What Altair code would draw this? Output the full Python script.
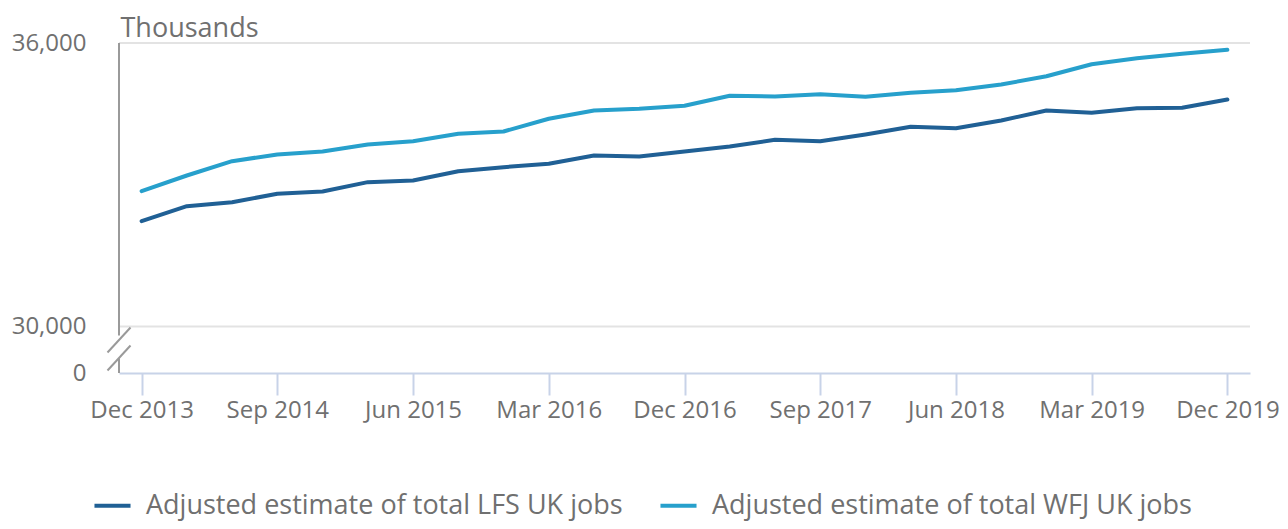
import altair as alt
import pandas as pd

# ---------------- data ----------------
quarters = ["Dec 2013", "Mar 2014", "Jun 2014", "Sep 2014", "Dec 2014", "Mar 2015",
            "Jun 2015", "Sep 2015", "Dec 2015", "Mar 2016", "Jun 2016", "Sep 2016",
            "Dec 2016", "Mar 2017", "Jun 2017", "Sep 2017", "Dec 2017", "Mar 2018",
            "Jun 2018", "Sep 2018", "Dec 2018", "Mar 2019", "Jun 2019", "Sep 2019",
            "Dec 2019"]

lfs = [32229, 32547, 32631, 32809, 32858, 33055, 33090, 33287, 33372, 33444,
       33619, 33598, 33704, 33810, 33952, 33922, 34064, 34227, 34197, 34360,
       34572, 34523, 34620, 34629, 34804]

wfj = [32864, 33196, 33499, 33641, 33704, 33852, 33922, 34079, 34127, 34396,
       34572, 34608, 34671, 34883, 34868, 34917, 34862, 34946, 35001, 35122,
       35297, 35551, 35678, 35771, 35856]

series_names = ["Adjusted estimate of total LFS UK jobs",
                "Adjusted estimate of total WFJ UK jobs"]
series_colors = ["#206095", "#27a0cc"]

x_label_quarters = quarters[::3]
grid_values = [30000, 36000]

# broken axis: values from 30,000 upwards are shown as offsets; 0 sits below the break
BREAK_BASE = 30000
BREAK_ZERO = -984
Y_TOP = 6000

rows = []
for q, a, b in zip(quarters, lfs, wfj):
    rows.append({"quarter": q, "series": series_names[0], "value": a})
    rows.append({"quarter": q, "series": series_names[1], "value": b})
df = pd.DataFrame(rows)
grid_df = pd.DataFrame({"value": grid_values})
one = pd.DataFrame({"k": [0]})

TEXT = "#707070"
AXIS_GREY = "#9a9a9a"
y_calc = f"datum.value - {BREAK_BASE}"

y_scale = alt.Scale(domain=[BREAK_ZERO, Y_TOP], nice=False, zero=False)
y_axis = alt.Axis(
    values=[BREAK_ZERO, 0, Y_TOP],
    labelExpr=f"datum.value < 0 ? '0' : format(datum.value + {BREAK_BASE}, ',')",
    title="Thousands", titleAngle=0, titleAlign="left", titleBaseline="alphabetic",
    titleX=1, titleY=-7, titleFontSize=27, titleFontWeight="normal", titleColor=TEXT,
    labelFontSize=24, labelColor=TEXT, labelPadding=33, ticks=False,
    domain=False, grid=False,
)

x_enc = alt.X(
    "quarter:O", sort=quarters,
    scale=alt.Scale(type="point", padding=0.5),
    axis=alt.Axis(values=x_label_quarters, labelAngle=0, title=None,
                  labelFontSize=24, labelColor=TEXT, labelPadding=3,
                  tickSize=22, tickColor="#c8d3e8", tickWidth=2,
                  domainColor="#c8d3e8", domainWidth=2, grid=False),
)

grid = alt.Chart(grid_df).transform_calculate(plot_y=y_calc).mark_rule(
    color="#e3e3e3", strokeWidth=2
).encode(y=alt.Y("plot_y:Q", scale=y_scale, axis=y_axis))

axis_upper = alt.Chart(one).mark_rule(color=AXIS_GREY, strokeWidth=2).encode(
    x=alt.value(0), y=alt.datum(Y_TOP), y2=alt.datum(-190)
)
axis_lower = alt.Chart(one).mark_rule(color=AXIS_GREY, strokeWidth=2).encode(
    x=alt.value(0), y=alt.datum(-670), y2=alt.datum(BREAK_ZERO)
)
break1 = alt.Chart(one).mark_rule(color=AXIS_GREY, strokeWidth=2).encode(
    x=alt.value(-11.5), x2=alt.value(11.5), y=alt.value(309.5), y2=alt.value(284.5)
)
break2 = alt.Chart(one).mark_rule(color=AXIS_GREY, strokeWidth=2).encode(
    x=alt.value(-11.5), x2=alt.value(11.5), y=alt.value(327.5), y2=alt.value(302.5)
)

lines = alt.Chart(df).transform_calculate(plot_y=y_calc).mark_line(
    strokeWidth=4, strokeCap="round", strokeJoin="round"
).encode(
    x=x_enc,
    y=alt.Y("plot_y:Q", scale=y_scale, axis=y_axis),
    color=alt.Color(
        "series:N",
        scale=alt.Scale(domain=series_names, range=series_colors),
        legend=alt.Legend(
            title=None, orient="none", direction="horizontal",
            legendX=-27, legendY=442,
            symbolType="stroke", symbolSize=1300, symbolStrokeWidth=4,
            labelFontSize=27, labelColor=TEXT, labelOffset=13,
            columnPadding=29, labelLimit=0,
        ),
    ),
)

chart = alt.layer(grid, axis_upper, axis_lower, break1, break2, lines).properties(
    width=1131, height=330,
    autosize=alt.AutoSizeParams(type="none"),
    padding={"left": 111, "top": 35, "right": 30, "bottom": 148},
).configure(font="Open Sans").configure_view(stroke=None)

chart.save("out.html", embed_options={"renderer": "svg", "actions": False})
